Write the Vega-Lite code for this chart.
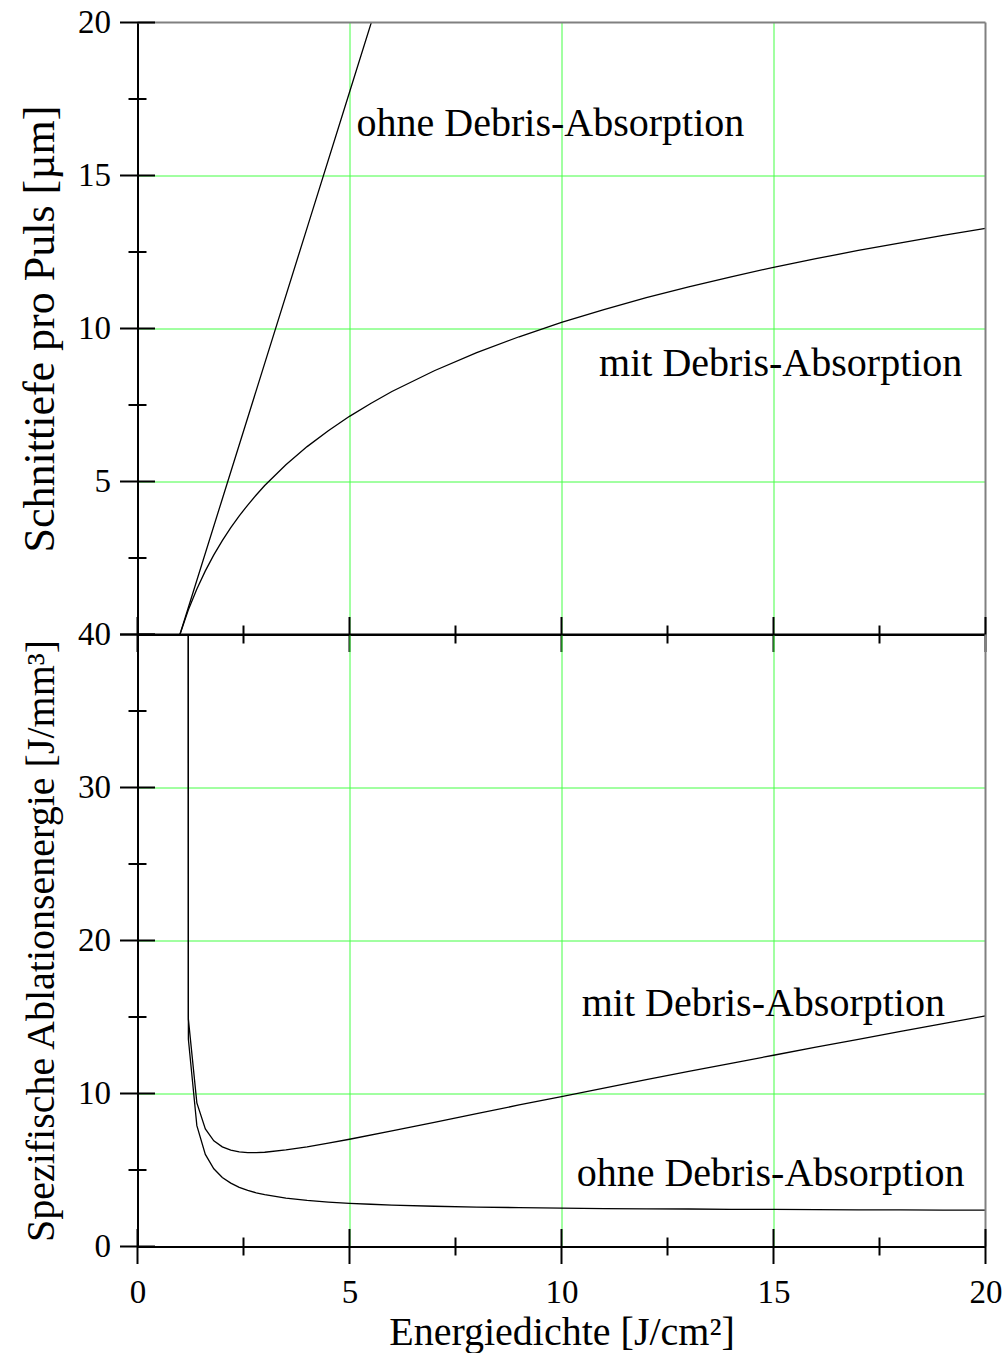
{
  "$schema": "https://vega.github.io/schema/vega-lite/v6.json",
  "padding": {"left": 18.5, "top": 6.5, "right": 0, "bottom": 0},
  "background": "white",
  "config": {
    "font": "Liberation Serif",
    "view": {"stroke": null},
    "axis": {
      "labelFont": "Liberation Serif",
      "titleFont": "Liberation Serif",
      "labelColor": "black",
      "titleColor": "black",
      "labelFontSize": 33,
      "titleFontSize": 40,
      "titleFontWeight": "normal",
      "domainColor": "black",
      "domainWidth": 2,
      "ticks": false,
      "tickSize": 0,
      "grid": true,
      "gridWidth": 1,
      "gridOpacity": 1,
      "labelOverlap": false,
      "labelFlush": false
    }
  },
  "datasets": {
    "one": [{}],
    "top": [
      {"series": "ohne", "E": 1.0, "v": 0},
      {"series": "ohne", "E": 2.0, "v": 4.43},
      {"series": "ohne", "E": 3.0, "v": 8.86},
      {"series": "ohne", "E": 4.0, "v": 13.29},
      {"series": "ohne", "E": 5.0, "v": 17.72},
      {"series": "ohne", "E": 6.0, "v": 22.15},
      {"series": "mit", "E": 1.0, "v": 0},
      {"series": "mit", "E": 1.2, "v": 0.81},
      {"series": "mit", "E": 1.4, "v": 1.49},
      {"series": "mit", "E": 1.6, "v": 2.08},
      {"series": "mit", "E": 1.8, "v": 2.60},
      {"series": "mit", "E": 2.0, "v": 3.07},
      {"series": "mit", "E": 2.2, "v": 3.49},
      {"series": "mit", "E": 2.4, "v": 3.88},
      {"series": "mit", "E": 2.6, "v": 4.23},
      {"series": "mit", "E": 2.8, "v": 4.56},
      {"series": "mit", "E": 3.0, "v": 4.87},
      {"series": "mit", "E": 3.5, "v": 5.55},
      {"series": "mit", "E": 4.0, "v": 6.14},
      {"series": "mit", "E": 4.5, "v": 6.66},
      {"series": "mit", "E": 5.0, "v": 7.13},
      {"series": "mit", "E": 5.5, "v": 7.55},
      {"series": "mit", "E": 6.0, "v": 7.94},
      {"series": "mit", "E": 7.0, "v": 8.62},
      {"series": "mit", "E": 8.0, "v": 9.21},
      {"series": "mit", "E": 9.0, "v": 9.73},
      {"series": "mit", "E": 10.0, "v": 10.20},
      {"series": "mit", "E": 11.0, "v": 10.62},
      {"series": "mit", "E": 12.0, "v": 11.01},
      {"series": "mit", "E": 13.0, "v": 11.36},
      {"series": "mit", "E": 14.0, "v": 11.69},
      {"series": "mit", "E": 15.0, "v": 12.00},
      {"series": "mit", "E": 16.0, "v": 12.28},
      {"series": "mit", "E": 17.0, "v": 12.55},
      {"series": "mit", "E": 18.0, "v": 12.80},
      {"series": "mit", "E": 19.0, "v": 13.04},
      {"series": "mit", "E": 20.0, "v": 13.27}
    ],
    "bottom": [
      {"series": "mit", "E": 1.0, "v": 2000},
      {"series": "mit", "E": 1.2, "v": 14.86},
      {"series": "mit", "E": 1.4, "v": 9.39},
      {"series": "mit", "E": 1.6, "v": 7.68},
      {"series": "mit", "E": 1.8, "v": 6.91},
      {"series": "mit", "E": 2.0, "v": 6.51},
      {"series": "mit", "E": 2.2, "v": 6.30},
      {"series": "mit", "E": 2.4, "v": 6.19},
      {"series": "mit", "E": 2.6, "v": 6.14},
      {"series": "mit", "E": 2.8, "v": 6.14},
      {"series": "mit", "E": 3.0, "v": 6.16},
      {"series": "mit", "E": 3.5, "v": 6.31},
      {"series": "mit", "E": 4.0, "v": 6.51},
      {"series": "mit", "E": 4.5, "v": 6.75},
      {"series": "mit", "E": 5.0, "v": 7.01},
      {"series": "mit", "E": 6.0, "v": 7.56},
      {"series": "mit", "E": 7.0, "v": 8.12},
      {"series": "mit", "E": 8.0, "v": 8.68},
      {"series": "mit", "E": 9.0, "v": 9.25},
      {"series": "mit", "E": 10.0, "v": 9.80},
      {"series": "mit", "E": 11.0, "v": 10.35},
      {"series": "mit", "E": 12.0, "v": 10.90},
      {"series": "mit", "E": 13.0, "v": 11.44},
      {"series": "mit", "E": 14.0, "v": 11.97},
      {"series": "mit", "E": 15.0, "v": 12.50},
      {"series": "mit", "E": 16.0, "v": 13.03},
      {"series": "mit", "E": 17.0, "v": 13.54},
      {"series": "mit", "E": 18.0, "v": 14.06},
      {"series": "mit", "E": 19.0, "v": 14.56},
      {"series": "mit", "E": 20.0, "v": 15.07},
      {"series": "ohne", "E": 1.0, "v": 2000},
      {"series": "ohne", "E": 1.2, "v": 13.54},
      {"series": "ohne", "E": 1.4, "v": 7.90},
      {"series": "ohne", "E": 1.6, "v": 6.02},
      {"series": "ohne", "E": 1.8, "v": 5.08},
      {"series": "ohne", "E": 2.0, "v": 4.51},
      {"series": "ohne", "E": 2.2, "v": 4.14},
      {"series": "ohne", "E": 2.4, "v": 3.87},
      {"series": "ohne", "E": 2.6, "v": 3.67},
      {"series": "ohne", "E": 2.8, "v": 3.51},
      {"series": "ohne", "E": 3.0, "v": 3.39},
      {"series": "ohne", "E": 3.5, "v": 3.16},
      {"series": "ohne", "E": 4.0, "v": 3.01},
      {"series": "ohne", "E": 4.5, "v": 2.90},
      {"series": "ohne", "E": 5.0, "v": 2.82},
      {"series": "ohne", "E": 5.5, "v": 2.76},
      {"series": "ohne", "E": 6.0, "v": 2.71},
      {"series": "ohne", "E": 7.0, "v": 2.63},
      {"series": "ohne", "E": 8.0, "v": 2.58},
      {"series": "ohne", "E": 9.0, "v": 2.54},
      {"series": "ohne", "E": 10.0, "v": 2.51},
      {"series": "ohne", "E": 11.0, "v": 2.48},
      {"series": "ohne", "E": 12.0, "v": 2.46},
      {"series": "ohne", "E": 13.0, "v": 2.45},
      {"series": "ohne", "E": 14.0, "v": 2.43},
      {"series": "ohne", "E": 15.0, "v": 2.42},
      {"series": "ohne", "E": 16.0, "v": 2.41},
      {"series": "ohne", "E": 17.0, "v": 2.40},
      {"series": "ohne", "E": 18.0, "v": 2.39},
      {"series": "ohne", "E": 19.0, "v": 2.38},
      {"series": "ohne", "E": 20.0, "v": 2.38}
    ],
    "labelsTop": [
      {"t": "ohne Debris-Absorption", "E": 9.74, "v": 16.28},
      {"t": "mit Debris-Absorption", "E": 15.17, "v": 8.44}
    ],
    "labelsBottom": [
      {"t": "mit Debris-Absorption", "E": 14.76, "v": 15.05},
      {"t": "ohne Debris-Absorption", "E": 14.93, "v": 3.94}
    ],
    "xticks": [
      {"E": 0, "kind": "major"}, {"E": 2.5, "kind": "minor"},
      {"E": 5, "kind": "major"}, {"E": 7.5, "kind": "minor"},
      {"E": 10, "kind": "major"}, {"E": 12.5, "kind": "minor"},
      {"E": 15, "kind": "major"}, {"E": 17.5, "kind": "minor"},
      {"E": 20, "kind": "major"}
    ],
    "yticksTop": [
      {"v": 0, "kind": "major"}, {"v": 2.5, "kind": "minor"},
      {"v": 5, "kind": "major"}, {"v": 7.5, "kind": "minor"},
      {"v": 10, "kind": "major"}, {"v": 12.5, "kind": "minor"},
      {"v": 15, "kind": "major"}, {"v": 17.5, "kind": "minor"},
      {"v": 20, "kind": "major"}
    ],
    "yticksBottom": [
      {"v": 0, "kind": "major"}, {"v": 5, "kind": "minor"},
      {"v": 10, "kind": "major"}, {"v": 15, "kind": "minor"},
      {"v": 20, "kind": "major"}, {"v": 25, "kind": "minor"},
      {"v": 30, "kind": "major"}, {"v": 35, "kind": "minor"},
      {"v": 40, "kind": "major"}
    ]
  },
  "vconcat": [
    {
      "width": 848,
      "height": 612,
      "layer": [
        {
          "data": {"name": "top"},
          "mark": {"type": "line", "color": "black", "strokeWidth": 1.3, "clip": true},
          "encoding": {
            "x": {"field": "E", "type": "quantitative", "title": null,
                  "scale": {"domain": [0, 20], "nice": false, "zero": false},
                  "axis": {"values": [0, 5, 10, 15, 20], "labels": false, "title": null,
                           "gridColor": {"condition": {"test": "datum.value === 0 || datum.value === 20", "value": "transparent"}, "value": "#44ff44"}}},
            "y": {"field": "v", "type": "quantitative", "title": "Schnittiefe pro Puls [µm]",
                  "scale": {"domain": [0, 20], "nice": false, "zero": false},
                  "axis": {"values": [0, 5, 10, 15, 20], "labelPadding": 27,
                           "labelExpr": "datum.value === 0 ? '' : datum.label",
                           "gridColor": {"condition": {"test": "datum.value === 0 || datum.value === 20", "value": "transparent"}, "value": "#44ff44"},
                           "titleFontSize": 44,
                           "titleX": -84, "titleY": 306, "titleBaseline": "alphabetic", "titleAlign": "center", "titleAngle": 270}},
            "detail": {"field": "series"}
          }
        },
        {
          "data": {"name": "one"},
          "mark": {"type": "rule", "color": "#808080", "strokeWidth": 2},
          "encoding": {"y": {"datum": 20}}
        },
        {
          "data": {"name": "one"},
          "mark": {"type": "rule", "color": "#808080", "strokeWidth": 2},
          "encoding": {"x": {"datum": 20}}
        },
        {
          "data": {"name": "xticks"},
          "mark": {"type": "tick", "orient": "vertical", "color": "black", "thickness": 2, "opacity": 1},
          "encoding": {
            "x": {"field": "E", "type": "quantitative", "title": null},
            "y": {"datum": 0},
            "size": {"field": "kind", "type": "ordinal", "scale": {"domain": ["major", "minor"], "range": [35, 18]}, "legend": null}
          }
        },
        {
          "data": {"name": "yticksTop"},
          "mark": {"type": "tick", "orient": "horizontal", "color": "black", "thickness": 2, "opacity": 1},
          "encoding": {
            "y": {"field": "v", "type": "quantitative", "title": "Schnittiefe pro Puls [µm]"},
            "x": {"datum": 0},
            "size": {"field": "kind", "type": "ordinal", "scale": {"domain": ["major", "minor"], "range": [35, 18]}, "legend": null}
          }
        },
        {
          "data": {"name": "labelsTop"},
          "mark": {"type": "text", "fontSize": 40, "font": "Liberation Serif", "align": "center", "baseline": "alphabetic", "color": "black"},
          "encoding": {
            "x": {"field": "E", "type": "quantitative", "title": null},
            "y": {"field": "v", "type": "quantitative", "title": "Schnittiefe pro Puls [µm]"},
            "text": {"field": "t"}
          }
        }
      ]
    },
    {
      "width": 848,
      "height": 612,
      "layer": [
        {
          "data": {"name": "bottom"},
          "mark": {"type": "line", "color": "black", "strokeWidth": 1.3, "clip": true},
          "encoding": {
            "x": {"field": "E", "type": "quantitative", "title": "Energiedichte [J/cm²]",
                  "scale": {"domain": [0, 20], "nice": false, "zero": false},
                  "axis": {"values": [0, 5, 10, 15, 20], "labelPadding": 30,
                           "gridColor": {"condition": {"test": "datum.value === 0 || datum.value === 20", "value": "transparent"}, "value": "#44ff44"},
                           "titleY": 98, "titleBaseline": "alphabetic", "titleAlign": "center"}},
            "y": {"field": "v", "type": "quantitative", "title": "Spezifische Ablationsenergie [J/mm³]",
                  "scale": {"domain": [0, 40], "nice": false, "zero": false},
                  "axis": {"values": [0, 10, 20, 30, 40], "labelPadding": 27,
                           "gridColor": {"condition": {"test": "datum.value === 0 || datum.value === 40", "value": "transparent"}, "value": "#44ff44"},
                           "titleX": -84, "titleY": 306, "titleBaseline": "alphabetic", "titleAlign": "center", "titleAngle": 270}},
            "detail": {"field": "series"}
          }
        },
        {
          "data": {"name": "one"},
          "mark": {"type": "rule", "color": "black", "strokeWidth": 2},
          "encoding": {"y": {"datum": 40}}
        },
        {
          "data": {"name": "one"},
          "mark": {"type": "rule", "color": "#808080", "strokeWidth": 2},
          "encoding": {"x": {"datum": 20}}
        },
        {
          "data": {"name": "xticks"},
          "mark": {"type": "tick", "orient": "vertical", "color": "black", "thickness": 2, "opacity": 1},
          "encoding": {
            "x": {"field": "E", "type": "quantitative", "title": "Energiedichte [J/cm²]"},
            "y": {"datum": 0},
            "size": {"field": "kind", "type": "ordinal", "scale": {"domain": ["major", "minor"], "range": [35, 18]}, "legend": null}
          }
        },
        {
          "data": {"name": "yticksBottom"},
          "mark": {"type": "tick", "orient": "horizontal", "color": "black", "thickness": 2, "opacity": 1},
          "encoding": {
            "y": {"field": "v", "type": "quantitative", "title": "Spezifische Ablationsenergie [J/mm³]"},
            "x": {"datum": 0},
            "size": {"field": "kind", "type": "ordinal", "scale": {"domain": ["major", "minor"], "range": [35, 18]}, "legend": null}
          }
        },
        {
          "data": {"name": "labelsBottom"},
          "mark": {"type": "text", "fontSize": 40, "font": "Liberation Serif", "align": "center", "baseline": "alphabetic", "color": "black"},
          "encoding": {
            "x": {"field": "E", "type": "quantitative", "title": "Energiedichte [J/cm²]"},
            "y": {"field": "v", "type": "quantitative", "title": "Spezifische Ablationsenergie [J/mm³]"},
            "text": {"field": "t"}
          }
        }
      ]
    }
  ],
  "spacing": 0,
  "bounds": "flush"
}
